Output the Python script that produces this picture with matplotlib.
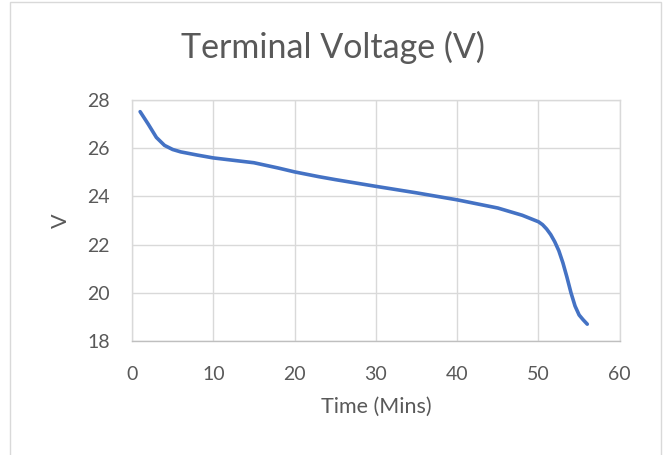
import matplotlib.pyplot as plt
from matplotlib.patches import Rectangle

# discharge curve
time_mins = [1, 2, 3, 4, 5, 6, 8, 10, 12, 15, 18, 20, 23, 25, 30, 35, 40,
             45, 48, 50, 50.5, 51, 51.5, 52, 52.5, 53, 53.5, 54, 54.5, 55,
             55.5, 56]
voltage = [27.52, 27.0, 26.45, 26.12, 25.95, 25.85, 25.72, 25.6, 25.52, 25.4,
           25.18, 25.02, 24.82, 24.7, 24.42, 24.15, 23.86, 23.52, 23.22,
           22.95, 22.83, 22.65, 22.42, 22.12, 21.75, 21.25, 20.65, 20.0,
           19.45, 19.08, 18.88, 18.7]

x_ticks = [0, 10, 20, 30, 40, 50, 60]
y_ticks = [18, 20, 22, 24, 26, 28]

text_color = "#595959"
grid_color = "#D9D9D9"
line_color = "#4472C4"

plt.rcParams['font.family'] = ['Lato', 'DejaVu Sans']

fig = plt.figure(figsize=(6.65, 4.55), dpi=100)
ax = fig.add_axes([0.1985, 0.2505, 0.7335, 0.5295])

ax.plot(time_mins, voltage, color=line_color, linewidth=2.6,
        solid_capstyle="round", solid_joinstyle="round")

ax.set_xlim(0, 60)
ax.set_ylim(18, 28)
ax.set_xticks(x_ticks)
ax.set_yticks(y_ticks)
ax.grid(True, color=grid_color, linewidth=1.0)
ax.set_axisbelow(True)

for side in ["top", "right", "left"]:
    ax.spines[side].set_color(grid_color)
    ax.spines[side].set_linewidth(1.0)
ax.spines["bottom"].set_color("#BFBFBF")
ax.spines["bottom"].set_linewidth(1.0)

ax.tick_params(length=0, labelsize=14, colors=text_color)
ax.tick_params(axis="x", pad=18)
ax.tick_params(axis="y", pad=16)
ax.set_xlabel("Time (Mins)", fontsize=15.5, color=text_color, labelpad=10)
ax.set_ylabel("V", fontsize=15.5, color=text_color, labelpad=12)

fig.text(0.5, 0.895, "Terminal Voltage (V)", ha="center", va="center",
         fontsize=24.5, color=text_color)

# chart outer border
fig.patches.append(Rectangle((0.015, -0.01), 0.979, 1.005,
                             transform=fig.transFigure, fill=False,
                             edgecolor="#D9D9D9", linewidth=1.0))

fig.savefig("out.png", dpi=100)
